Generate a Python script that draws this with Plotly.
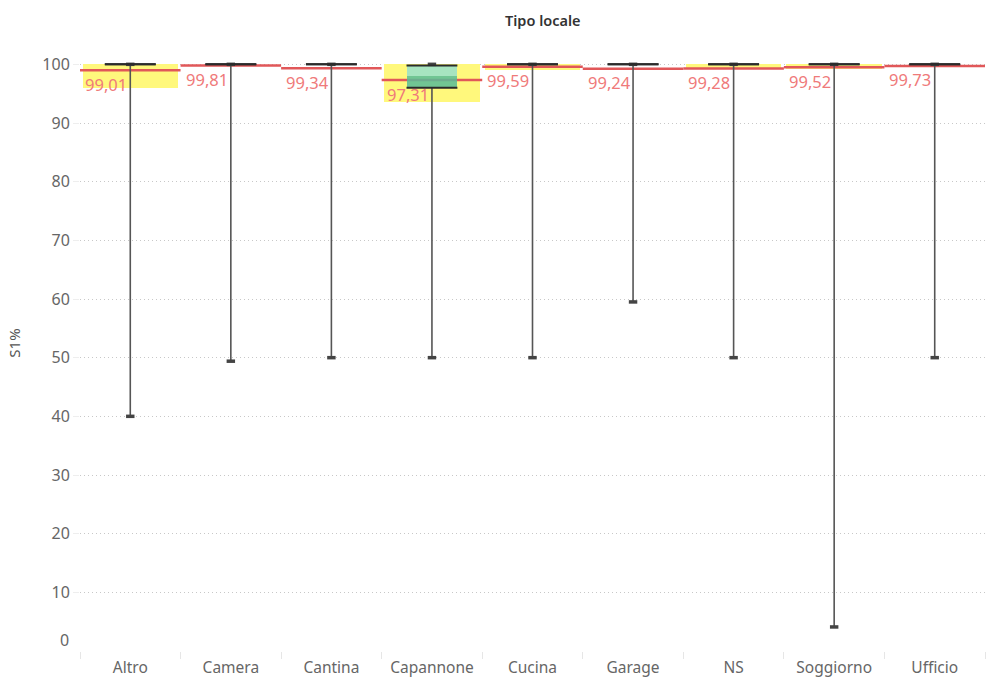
import plotly.graph_objects as go

categories = ["Altro", "Camera", "Cantina", "Capannone", "Cucina", "Garage", "NS", "Soggiorno", "Ufficio"]
averages = [99.01, 99.81, 99.34, 97.31, 99.59, 99.24, 99.28, 99.52, 99.73]
avg_labels = ["99,01", "99,81", "99,34", "97,31", "99,59", "99,24", "99,28", "99,52", "99,73"]
whisker_low = [40.0, 49.4, 50.0, 50.0, 50.0, 59.5, 50.0, 4.1, 50.0]
whisker_high = [100, 100, 100, 100, 100, 100, 100, 100, 100]
q1 = [100, 100, 100, 96.0, 100, 100, 100, 100, 100]
median = [100, 100, 100, 98.0, 100, 100, 100, 100, 100]
q3 = [100, 100, 100, 99.8, 100, 100, 100, 100, 100]
band_low = [96.0, 100, 100, 93.6, 99.1, 100, 99.4, 99.2, 100]
band_high = [100, 100, 100, 100, 100, 100, 100, 100, 100]
y_ticks = [10, 20, 30, 40, 50, 60, 70, 80, 90, 100]

FONT = "Noto Sans"
xs = list(range(len(categories)))
BOX_HALF = 0.253
CAP_HALF = 0.042

fig = go.Figure()

# reference bands (yellow)
fig.add_trace(go.Bar(
    x=xs, y=[h - l for h, l in zip(band_high, band_low)], base=band_low,
    width=0.95, marker=dict(color="#fff87c", line=dict(width=0)),
    hoverinfo="skip", showlegend=False, zorder=0))

# average lines (red)
lx, ly = [], []
for i, a in enumerate(averages):
    lx += [i - 0.5, i + 0.5, None]
    ly += [a, a, None]
fig.add_trace(go.Scatter(x=lx, y=ly, mode="lines",
                         line=dict(color="#e15759", width=2.5),
                         hoverinfo="skip", showlegend=False, zorder=1))

# boxes: lower (q1->median) and upper (median->q3)
fig.add_trace(go.Bar(
    x=xs, y=[m - a for m, a in zip(median, q1)], base=q1, width=2 * BOX_HALF,
    marker=dict(color="rgba(88,188,152,0.85)", line=dict(width=0)),
    hoverinfo="skip", showlegend=False, zorder=2))
fig.add_trace(go.Bar(
    x=xs, y=[b - m for b, m in zip(q3, median)], base=median, width=2 * BOX_HALF,
    marker=dict(color="rgba(160,226,198,0.92)", line=dict(width=0)),
    hoverinfo="skip", showlegend=False, zorder=2))

# whiskers
wx, wy = [], []
for i in xs:
    wx += [i, i, None, i, i, None]
    wy += [whisker_low[i], q1[i], None, q3[i], whisker_high[i], None]
fig.add_trace(go.Scatter(x=wx, y=wy, mode="lines",
                         line=dict(color="#555555", width=1.6),
                         hoverinfo="skip", showlegend=False, zorder=3))

# whisker caps
cx, cy = [], []
for i in xs:
    for v in (whisker_low[i], whisker_high[i]):
        cx += [i - CAP_HALF, i + CAP_HALF, None]
        cy += [v, v, None]
fig.add_trace(go.Scatter(x=cx, y=cy, mode="lines",
                         line=dict(color="#444444", width=3.5),
                         hoverinfo="skip", showlegend=False, zorder=4))

# box edges (q1 and q3)
ex, ey = [], []
for i in xs:
    for v in (q1[i], q3[i]):
        ex += [i - BOX_HALF, i + BOX_HALF, None]
        ey += [v, v, None]
fig.add_trace(go.Scatter(x=ex, y=ey, mode="lines",
                         line=dict(color="#2b2b2b", width=2),
                         hoverinfo="skip", showlegend=False, zorder=5))

# average labels
for i, (a, t) in enumerate(zip(averages, avg_labels)):
    fig.add_annotation(x=i - 0.47, y=a, text=t, showarrow=False,
                       xanchor="left", yanchor="middle", yshift=-14,
                       font=dict(family=FONT, size=16.5, color="#ef7a7a"))

# title
fig.add_annotation(x=0.5, y=1, xref="paper", yref="paper", yshift=15, xshift=10,
                   text="Tipo locale", showarrow=False, xanchor="center", yanchor="middle",
                   font=dict(family=FONT, size=14.5, color="#333333", weight=600))

# "0" label shifted up (Tableau style)
fig.add_annotation(x=0, y=0, xref="paper", yref="y", text="0", showarrow=False,
                   xanchor="right", yanchor="middle", xshift=-9, yshift=11,
                   font=dict(family=FONT, size=16, color="#666666"))

fig.update_layout(
    width=987, height=678,
    margin=dict(l=80, r=2, t=35, b=27, autoexpand=False),
    paper_bgcolor="white", plot_bgcolor="white",
    barmode="overlay", bargap=0,
    font=dict(family=FONT, color="#666666"),
    showlegend=False,
)
fig.update_xaxes(
    range=[-0.5, len(categories) - 0.5],
    tickvals=xs, ticktext=categories, ticks="",
    tickfont=dict(family=FONT, size=15.5, color="#666666"),
    ticklabelstandoff=2, automargin=False,
    showgrid=False, zeroline=False,
    showline=True, linecolor="#e6e6e6", linewidth=1,
    minor=dict(tick0=-0.5, dtick=1, ticks="outside", ticklen=7, tickcolor="#e6e6e6", showgrid=False),
    fixedrange=True,
)
fig.update_yaxes(
    range=[0, 105], tickvals=y_ticks, ticks="outside", ticklen=6, tickcolor="#eeeeee",
    tickfont=dict(family=FONT, size=16, color="#666666"), automargin=False,
    showgrid=True, gridcolor="#c8c8c8", griddash="1px,3px", gridwidth=1,
    zeroline=False, showline=True, linecolor="#e6e6e6", linewidth=1,
    title=dict(text="S1%", font=dict(family=FONT, size=15, color="#555555"), standoff=18),
    fixedrange=True,
)

fig.write_html("out.html", config={"displayModeBar": False},
               post_script="document.body.style.margin='0';document.body.style.overflow='hidden';")
